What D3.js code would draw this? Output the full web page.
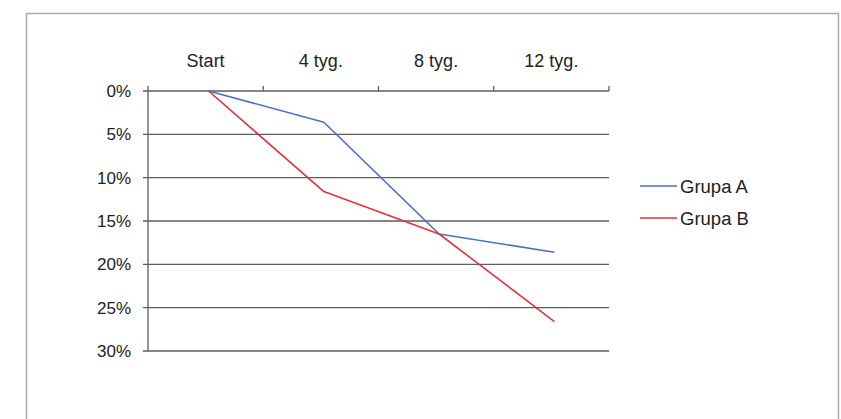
<!DOCTYPE html>
<html>
<head>
<meta charset="utf-8">
<script src="https://cdn.jsdelivr.net/npm/d3@7"></script>
<style>
  html, body { margin: 0; padding: 0; background: #fff; }
  svg text { font-family: "Liberation Sans", Arial, sans-serif; fill: #222; }
</style>
</head>
<body>
<svg id="chart" width="841" height="419"></svg>
<script>
// Weeks of treatment and the percentage decrease per group
const categories = ["Start", "4 tyg.", "8 tyg.", "12 tyg."];
const grupaA = [0, 3.6, 16.5, 18.6];
const grupaB = [0, 11.6, 16.5, 26.6];
const yTicks = [0, 5, 10, 15, 20, 25, 30];
const seriesNames = ["Grupa A", "Grupa B"];
const seriesColors = ["#4a6fc9", "#e8303a"];

const svg = d3.select("#chart");

// outer frame
svg.append("rect")
  .attr("x", 26.5).attr("y", 13.5)
  .attr("width", 812).attr("height", 420)
  .attr("fill", "none").attr("stroke", "#a8a8a8").attr("stroke-width", 1.5);

const plot = { left: 148, right: 609, top: 91, bottom: 351 };

const x = d3.scaleBand().domain(categories).range([plot.left, plot.right]);
const y = d3.scaleLinear().domain([0, 30]).range([plot.top, plot.bottom]);

// horizontal gridlines with small ticks on the left
svg.append("g")
  .selectAll("line")
  .data(yTicks)
  .join("line")
  .attr("x1", plot.left - 5).attr("x2", plot.right)
  .attr("y1", d => y(d)).attr("y2", d => y(d))
  .attr("stroke", "#5c5c5c").attr("stroke-width", 1.3);

// y axis line
svg.append("line")
  .attr("x1", plot.left).attr("x2", plot.left)
  .attr("y1", plot.top - 5).attr("y2", plot.bottom)
  .attr("stroke", "#5c5c5c").attr("stroke-width", 1.3);

// y labels
svg.append("g")
  .selectAll("text")
  .data(yTicks)
  .join("text")
  .attr("x", plot.left - 17)
  .attr("y", d => y(d))
  .attr("dy", "0.36em")
  .attr("text-anchor", "end")
  .attr("font-size", 17)
  .text(d => d + "%");

// category axis on top: boundary ticks pointing up
const bounds = categories.map(c => x(c)).concat([plot.right]);
svg.append("g")
  .selectAll("line")
  .data(bounds.slice(1))
  .join("line")
  .attr("x1", d => d).attr("x2", d => d)
  .attr("y1", plot.top).attr("y2", plot.top - 5)
  .attr("stroke", "#5c5c5c").attr("stroke-width", 1.3);

svg.append("g")
  .selectAll("text")
  .data(categories)
  .join("text")
  .attr("x", d => x(d) + x.bandwidth() / 2)
  .attr("y", 67)
  .attr("text-anchor", "middle")
  .attr("font-size", 18)
  .text(d => d);

// series lines
const line = d3.line()
  .x((d, i) => x(categories[i]) + x.bandwidth() / 2 + 3)
  .y(d => y(d));

[grupaA, grupaB].forEach((vals, i) => {
  svg.append("path")
    .datum(vals)
    .attr("d", line)
    .attr("fill", "none")
    .attr("stroke", seriesColors[i])
    .attr("stroke-width", 1.6)
    .attr("stroke-linejoin", "round");
});

// legend
const legend = svg.append("g");
seriesNames.forEach((name, i) => {
  const ly = 186 + i * 32;
  legend.append("line")
    .attr("x1", 640).attr("x2", 677)
    .attr("y1", ly).attr("y2", ly)
    .attr("stroke", seriesColors[i]).attr("stroke-width", 1.6);
  legend.append("text")
    .attr("x", 680).attr("y", ly)
    .attr("dy", "0.36em")
    .attr("font-size", 18.5)
    .text(name);
});
</script>
</body>
</html>
